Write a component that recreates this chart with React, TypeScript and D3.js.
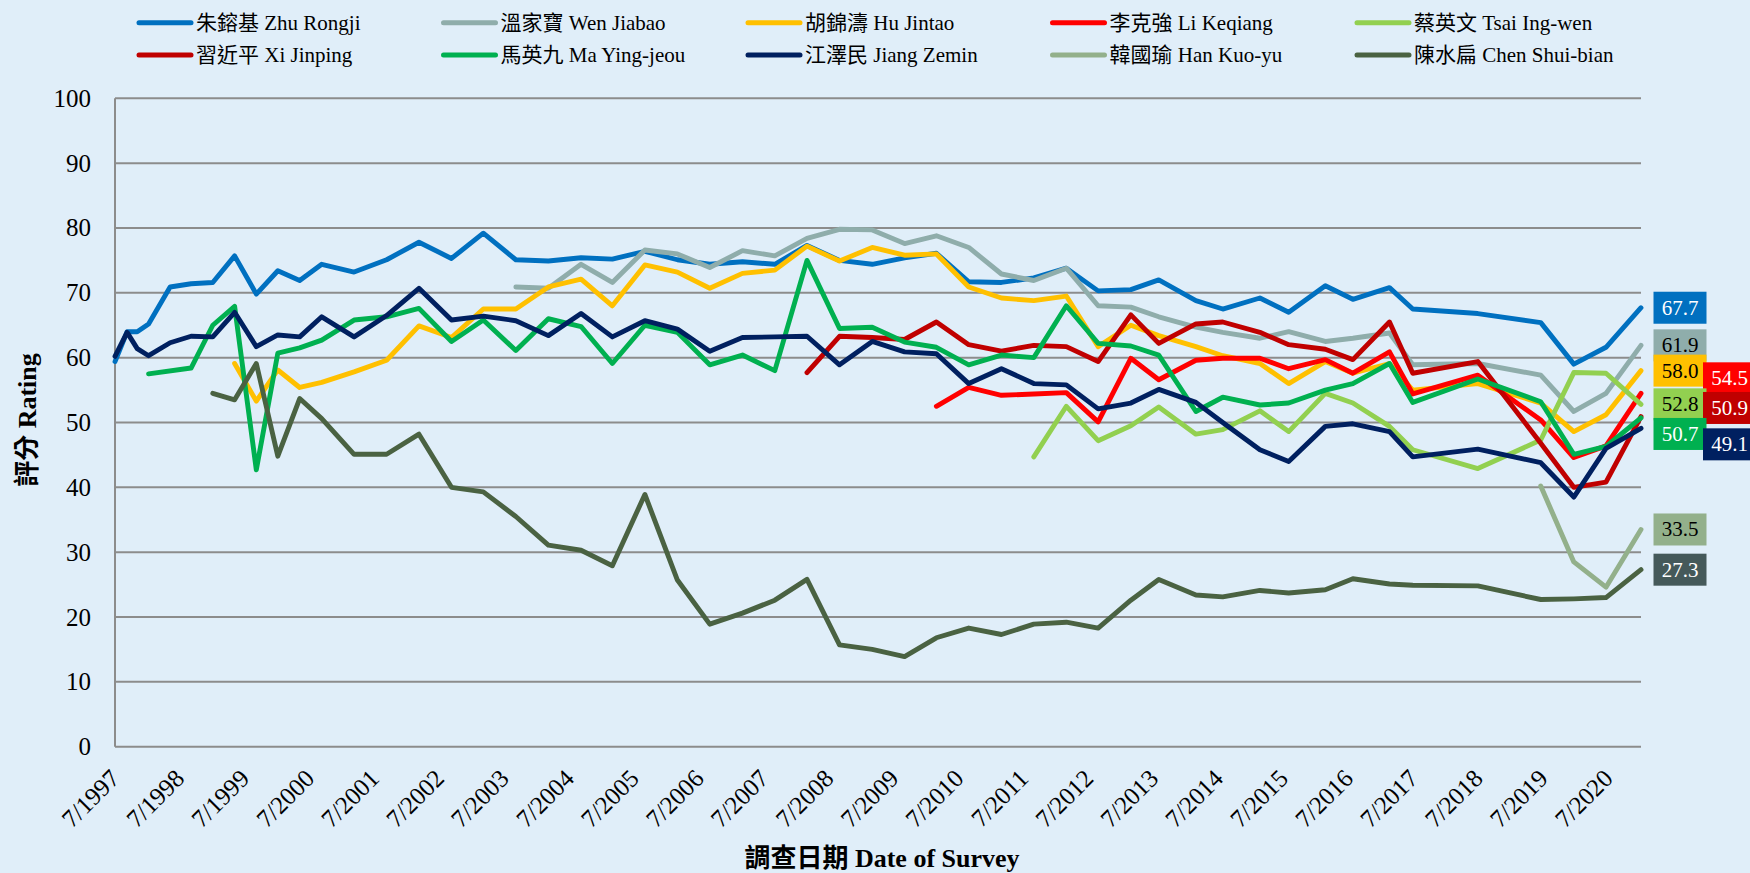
import { extent, line, scaleLinear, scaleTime, timeParse } from "d3";

const parseDate = timeParse("%Y-%m-%d");

// survey dates shared by every series
const surveyDates = [
  "1997-07-01", "1997-09-07", "1997-11-03", "1998-01-06", "1998-05-07",
  "1998-09-02", "1999-01-02", "1999-05-05", "1999-09-04", "2000-01-03",
  "2000-05-05", "2000-09-06", "2001-03-07", "2001-09-06", "2002-03-07",
  "2002-09-06", "2003-03-04", "2003-09-03", "2004-03-04", "2004-09-04",
  "2005-02-27", "2005-08-29", "2006-02-28", "2006-08-29", "2007-03-01",
  "2007-08-30", "2008-02-27", "2008-08-28", "2009-02-28", "2009-08-29",
  "2010-02-24", "2010-08-25", "2011-02-25", "2011-08-26", "2012-02-25",
  "2012-08-22", "2013-02-22", "2013-07-29", "2014-02-23", "2014-07-24",
  "2015-02-18", "2015-07-30", "2016-02-21", "2016-07-25", "2017-02-16",
  "2017-06-27", "2018-06-28", "2019-06-17", "2019-12-20", "2020-06-18",
  "2021-01-01",
].map((s) => parseDate(s) as Date);

const blank = (n: number) => Array(n).fill(null);

const zhuRongji = [
  59.4, 64.0, 64.0, 65.2, 70.9, 71.4, 71.6, 75.7, 69.8, 73.4,
  71.9, 74.4, 73.2, 75.1, 77.8, 75.3, 79.2, 75.1, 74.9, 75.4,
  75.2, 76.4, 75.1, 74.4, 74.8, 74.4, 77.3, 75.0, 74.4, 75.4,
  76.1, 71.7, 71.6, 72.3, 73.8, 70.3, 70.5, 72.0, 68.8, 67.5,
  69.2, 67.0, 71.1, 69.0, 70.8, 67.5, 66.8, 65.4, 59.0, 61.6, 67.7,
];
const wenJiabao = [
  ...blank(17),
  70.9, 70.7, 74.4, 71.6, 76.6, 76.0, 73.9, 76.5, 75.7, 78.4,
  79.8, 79.7, 77.6, 78.8, 77.0, 72.9, 71.9, 73.8, 68.0, 67.8,
  66.3, 64.7, 63.9, 63.0, 64.0, 62.5, 63.0, 63.8, 58.9, 59.1,
  57.3, 51.7, 54.5, 61.9,
];
const huJintao = [
  ...blank(7),
  59.1, 53.3, 58.1, 55.4, 56.2, 57.8, 59.6, 64.9, 63.1, 67.5,
  67.5, 70.9, 72.1, 68.0, 74.3, 73.2, 70.7, 73.0, 73.5, 77.2,
  74.9, 77.0, 75.8, 76.0, 70.9, 69.2, 68.8, 69.5, 61.7, 65.0,
  63.4, 61.7, 60.3, 59.1, 56.0, 59.4, 57.6, 59.1, 55.0, 56.0,
  53.0, 48.6, 51.2, 58.0,
];
const liKeqiang = [
  ...blank(30),
  52.5, 55.4, 54.2, 54.4, 54.6, 50.1, 59.9, 56.6, 59.6, 59.9,
  59.9, 58.3, 59.7, 57.6, 60.9, 54.4, 57.3, 50.4, 44.6, 46.4, 54.5,
];
const tsaiIngwen = [
  ...blank(33),
  44.7, 52.5, 47.2, 49.5, 52.4, 48.2, 48.9, 51.8, 48.6, 54.5,
  53.0, 49.4, 45.8, 42.9, 47.3, 57.7, 57.6, 52.8,
];
const xiJinping = [
  ...blank(26),
  57.7, 63.3, 63.1, 62.8, 65.5, 62.0, 61.0, 61.9, 61.7, 59.4,
  66.6, 62.2, 65.2, 65.5, 63.9, 62.0, 61.3, 59.7, 65.5, 57.6,
  59.4, 46.8, 40.0, 40.8, 50.9,
];
const maYingjeou = [
  ...blank(3), 57.5, null,
  58.4, 65.0, 67.9, 42.7, 60.7, 61.5, 62.7, 65.8, 66.3, 67.6,
  62.5, 65.8, 61.1, 66.0, 64.8, 59.1, 65.0, 63.9, 58.9, 60.4,
  58.0, 75.0, 64.5, 64.7, 62.4, 61.6, 58.9, 60.4, 60.0, 68.0,
  62.2, 61.8, 60.4, 51.7, 53.9, 52.7, 53.0, 55.0, 56.0, 59.1,
  53.1, 56.7, 53.2, 45.1, 46.3, 50.7,
];
const jiangZemin = [
  60.2, 63.9, 61.4, 60.3, 62.3, 63.3, 63.2, 67.0, 61.7, 63.5,
  63.2, 66.3, 63.2, 66.5, 70.7, 65.8, 66.4, 65.7, 63.4, 66.8,
  63.2, 65.7, 64.4, 61.0, 63.1, 63.2, 63.3, 58.9, 62.5, 60.9,
  60.6, 56.0, 58.3, 56.0, 55.8, 52.1, 53.0, 55.1, 53.1, 50.0,
  45.8, 44.0, 49.4, 49.8, 48.6, 44.7, 45.9, 43.8, 38.5, 46.0, 49.1,
];
const hanKuoyu = [...blank(47), 40.2, 28.5, 24.6, 33.5];
const chenShuibian = [
  ...blank(6),
  54.5, 53.5, 59.1, 44.8, 53.7, 50.6, 45.1, 45.1, 48.2, 40.0,
  39.3, 35.5, 31.1, 30.3, 27.9, 38.9, 25.7, 18.9, 20.6, 22.6,
  25.8, 15.7, 15.0, 13.9, 16.8, 18.3, 17.3, 18.9, 19.2, 18.3,
  22.6, 25.8, 23.4, 23.1, 24.1, 23.7, 24.2, 25.9, 25.1, 24.9,
  24.8, 22.7, 22.8, 23.0, 27.3,
];

const yTicks = [0, 10, 20, 30, 40, 50, 60, 70, 80, 90, 100];
const tickYears = [
  1997, 1998, 1999, 2000, 2001, 2002, 2003, 2004, 2005, 2006, 2007, 2008,
  2009, 2010, 2011, 2012, 2013, 2014, 2015, 2016, 2017, 2018, 2019, 2020,
];

// legend order: row 1 then row 2; col/dy place the end-value boxes
const seriesList = [
  { name: "朱鎔基 Zhu Rongji", values: zhuRongji, color: "#0070C0", ink: "#fff", col: 0, dy: 0 },
  { name: "溫家寶 Wen Jiabao", values: wenJiabao, color: "#8FADAB", ink: "#000", col: 0, dy: 0 },
  { name: "胡錦濤 Hu Jintao", values: huJintao, color: "#FFC000", ink: "#000", col: 0, dy: 0 },
  { name: "李克強 Li Keqiang", values: liKeqiang, color: "#FF0000", ink: "#fff", col: 1, dy: -15 },
  { name: "蔡英文 Tsai Ing-wen", values: tsaiIngwen, color: "#92D050", ink: "#000", col: 0, dy: 0 },
  { name: "習近平 Xi Jinping", values: xiJinping, color: "#C00000", ink: "#fff", col: 1, dy: -8.7 },
  { name: "馬英九 Ma Ying-jeou", values: maYingjeou, color: "#00B050", ink: "#fff", col: 0, dy: 16 },
  { name: "江澤民 Jiang Zemin", values: jiangZemin, color: "#002060", ink: "#fff", col: 1, dy: 16 },
  { name: "韓國瑜 Han Kuo-yu", values: hanKuoyu, color: "#93B08B", ink: "#000", col: 0, dy: 0 },
  { name: "陳水扁 Chen Shui-bian", values: chenShuibian, color: "#4A6242", box: "#45595A", ink: "#fff", col: 0, dy: 0 },
];

const W = 1750;
const H = 873;
const left = 115;
const right = 1641;
const FONT = '"Liberation Serif", "Times New Roman", "Noto Sans CJK TC", serif';

export default function App() {
  const x = scaleTime()
    .domain(extent(surveyDates) as [Date, Date])
    .range([left, right]);
  const y = scaleLinear().domain([0, 100]).range([746.7, 98.3]);

  const path = line<[Date, number]>()
    .x((d) => x(d[0]))
    .y((d) => y(d[1]));

  const boxX = [1653.5, 1703];

  return (
    <svg
      width={W}
      height={H}
      style={{ position: "absolute", left: 0, top: 0, fontFamily: FONT }}
    >
      <rect width={W} height={H} fill="#E0EEF9" />

      {/* legend */}
      {seriesList.map((s, i) => {
        const lx = 139 + (i % 5) * 304.5;
        const ly = i < 5 ? 22.7 : 55;
        return (
          <g key={s.name}>
            <line
              x1={lx}
              x2={lx + 52}
              y1={ly}
              y2={ly}
              stroke={s.color}
              strokeWidth={5}
              strokeLinecap="round"
            />
            <text x={lx + 57} y={ly} fontSize={21} dominantBaseline="central" fill="#000">
              {s.name}
            </text>
          </g>
        );
      })}

      {/* grid */}
      {yTicks.map((t) => (
        <g key={t}>
          <line x1={left} x2={right} y1={y(t)} y2={y(t)} stroke="#8C8C8C" strokeWidth={2} />
          <text
            x={91}
            y={y(t)}
            fontSize={25}
            textAnchor="end"
            dominantBaseline="central"
            fill="#000"
          >
            {t}
          </text>
        </g>
      ))}
      <line x1={left} x2={left} y1={y(100)} y2={y(0)} stroke="#8C8C8C" strokeWidth={2} />

      {tickYears.map((yr) => {
        const tx = x(new Date(yr, 6, 1));
        return (
          <text
            key={yr}
            transform={`translate(${tx},774) rotate(-45)`}
            fontSize={25}
            textAnchor="end"
            dominantBaseline="central"
            fill="#000"
          >
            {`7/${yr}`}
          </text>
        );
      })}

      {/* lines */}
      {seriesList.map((s) => {
        const pts = surveyDates
          .map((d, i) => [d, s.values[i]] as [Date, number])
          .filter((p) => p[1] != null);
        return (
          <path
            key={s.name}
            d={path(pts) || ""}
            fill="none"
            stroke={s.color}
            strokeWidth={4.9}
            strokeLinejoin="round"
            strokeLinecap="round"
          />
        );
      })}

      {/* end labels */}
      {seriesList.map((s) => {
        const last = s.values[s.values.length - 1] as number;
        const cy = y(last) + s.dy;
        const bx = boxX[s.col];
        return (
          <g key={s.name}>
            <rect x={bx} y={cy - 16} width={53} height={32} fill={s.box || s.color} />
            <text
              x={bx + 26.5}
              y={cy}
              fontSize={21}
              textAnchor="middle"
              dominantBaseline="central"
              fill={s.ink}
            >
              {last.toFixed(1)}
            </text>
          </g>
        );
      })}

      {/* axis titles */}
      <text
        transform="translate(27,420) rotate(-90)"
        fontSize={26}
        fontWeight="bold"
        textAnchor="middle"
        dominantBaseline="central"
        fill="#000"
      >
        評分 Rating
      </text>
      <text
        x={882}
        y={858}
        fontSize={26}
        fontWeight="bold"
        textAnchor="middle"
        dominantBaseline="central"
        fill="#000"
      >
        調查日期 Date of Survey
      </text>
    </svg>
  );
}
